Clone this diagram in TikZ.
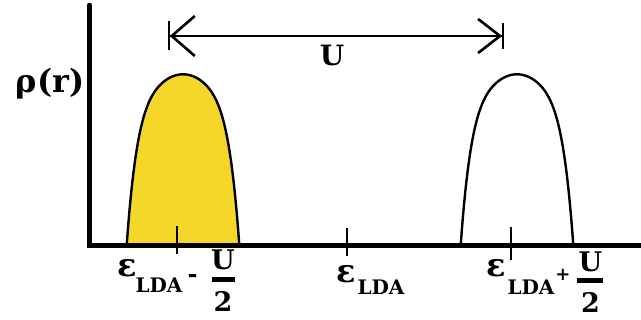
\documentclass[tikz,border=0pt]{standalone}
\usepackage{fontspec}
\setmainfont{DejaVu Serif}
\usetikzlibrary{arrows.meta}
\definecolor{bandyellow}{RGB}{244,215,41}
\tikzset{
  bandline/.style={line width=2.4pt,line join=round},
  axisline/.style={line width=4.6pt,line cap=round},
  tickline/.style={line width=1.5pt},
  fracbar/.style={line width=5pt},
  gaparrow/.style={line width=1.8pt,
    {Bar[width=29pt,sep=0pt]Straight Barb[length=23pt,width=40pt,line width=2.6pt,sep=0pt]}-{Straight Barb[length=22pt,width=34pt,line width=2.6pt,sep=0pt]Bar[width=26pt,sep=0pt]}},
  lbl/.style={inner sep=0pt,anchor=base,font=\bfseries\fontsize{#1}{#1}\selectfont},
  lbl/.default=26
}

\begin{document}
\begin{tikzpicture}[x=1pt,y=1pt]
  \useasboundingbox (0,0) rectangle (641,320);
  % occupied band (filled) and empty band
  \draw[bandline,fill=bandyellow] plot[domain=-1:1,samples=101,variable=\t]
    ({183+56.3*\t},{75+170.7*(1-0.36*\t*\t-0.64*(\t*\t)^3)});
  \draw[bandline] plot[domain=-1:1,samples=101,variable=\t]
    ({517+56.3*\t},{75+170.7*(1-0.36*\t*\t-0.64*(\t*\t)^3)});
  % axes
  \draw[axisline] (89.5,315) -- (89.5,74.5) -- (645,74.5);
  % ticks
  \coordinate (tL) at (177,94);
  \coordinate (tM) at (347,92);
  \coordinate (tR) at (511,93);
  \draw[tickline] (tL) -- ++(0,-28);
  \draw[tickline] (tM) -- ++(0,-28);
  \draw[tickline] (tR) -- ++(0,-33);
  % gap U
  \coordinate (uL) at (168,284);
  \coordinate (uR) at (504,284);
  \draw[gaparrow] (uL) -- (uR);
  \node[lbl=28] (Ulabel) at (332,254) {U};
  \node[inner sep=0pt,font=\bfseries\fontsize{32}{32}\selectfont] (rho) at (50,236.5) {ρ(r)};
  % labels below the axis
  \node[lbl=32] (epsL) at (127.5,43) {ε};
  \node[lbl=20] (ldaL) at (159,27) {LDA};
  \node[lbl=24] (minusL) at (192.5,37) {-};
  \node[lbl=27] (numL) at (223,50) {U};
  \draw[fracbar] (212,40.5) -- (235,40.5);
  \node[lbl=27] (denL) at (223,8) {2};
  \node[lbl=32] (epsM) at (346,37) {ε};
  \node[lbl=20] (ldaM) at (381,25) {LDA};
  \node[lbl=32] (epsR) at (496,43) {ε};
  \node[lbl=20] (ldaR) at (531,25) {LDA};
  \node[lbl=18] (plusR) at (563,39) {+};
  \node[lbl=27] (numR) at (590.5,48) {U};
  \draw[fracbar] (577,39.5) -- (603,39.5);
  \node[lbl=27] (denR) at (590.5,7) {2};
\end{tikzpicture}
\end{document}
